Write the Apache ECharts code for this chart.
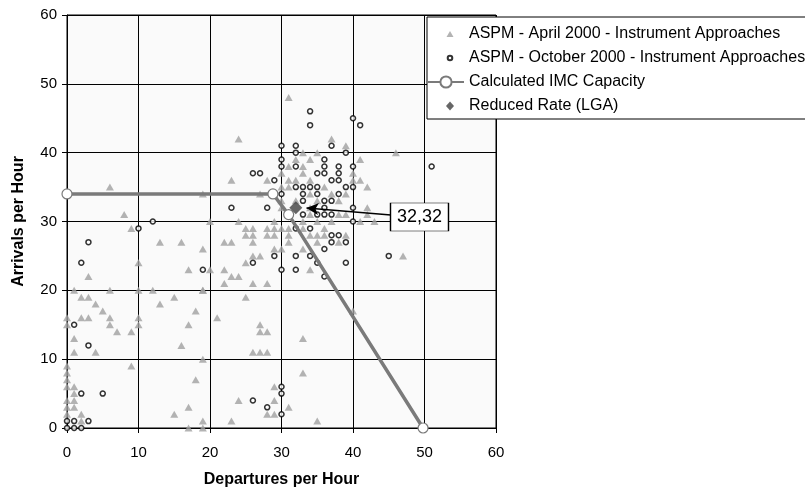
<!DOCTYPE html>
<html><head><meta charset="utf-8">
<script src="https://cdn.jsdelivr.net/npm/echarts@6/dist/echarts.min.js"></script>
<style>html,body{margin:0;padding:0;background:#fff}#c{width:805px;height:489px}</style>
</head><body><div id="c"></div>
<script>
// ---- data ----
const seriesNames = [
  'ASPM - April 2000 - Instrument Approaches',
  'ASPM - October 2000 - Instrument Approaches',
  'Calculated IMC Capacity',
  'Reduced Rate (LGA)'
];
const xAxisTitle = 'Departures per Hour';
const yAxisTitle = 'Arrivals per Hour';
const axisMin = 0, axisMax = 60, axisStep = 10;

const april = [
 [1,20],[2,19],[3,19],[6,20],[10,20],[12,20],[19,20],[4,18],[13,18],[15,19],[5,17],[18,17],
 [0,16],[2,16],[3,16],[6,16],[10,16],[0,15],[6,15],[10,15],[7,14],[9,14],[17,15],[1,13],
 [16,12],[1,11],[4,11],[19,10],[9,9],[0,9],[0,8],[0,7],[0,6],[1,6],[18,7],[1,5],[0,4],[1,4],
 [0,3],[1,3],[17,3],[2,2],[15,2],[0,2],[2,1],[19,1],[17,0],[19,0],[23,1],[35,1],
 [6,35],[19,34],[8,31],[9,29],[13,27],[16,27],[19,26],[10,24],[17,23],[3,22],[20,30],
 [23,36],[27,34],[24,30],[25,28],[22,27],[23,27],[26,27],
 [25,29],[26,29],[28,29],[29,29],[30,29],[31,29],
 [26,28],[28,28],[29,28],[31,28],[35,28],[36,28],
 [31,27],[35,27],[38,27],
 [29,26],[26,25],[27,25],[25,24],[20,23],[22,23],[23,22],[24,22],[34,23],
 [22,21],[26,21],[28,21],[19,20],[25,19],[21,16],[27,15],[27,14],[28,14],[33,13],
 [26,11],[27,11],[28,11],[33,8],[29,6],[24,4],[29,4],[31,3],[28,2],[29,2],[40,17],
 [31,48],[24,42],[37,42],[39,41],[33,40],[35,40],[46,40],[32,39],[34,39],[41,39],
 [31,38],[33,38],[30,37],[33,37],[40,37],[28,36],[31,36],[32,36],[34,36],[40,36],[41,36],
 [42,35],[30,35],[31,35],[36,35],[29,34],[34,34],[37,34],[39,34],
 [30,33],[32,33],[35,33],[38,33],[30,32],[34,32],[42,32],
 [31,31],[34,31],[38,31],[39,31],[42,31],[29,30],[33,30],[35,30],[37,30],[41,30],[43,30],
 [33,29],[36,29],[34,28],[39,28],[30,26],[33,26],[47,25]
];
const october = [
 [1,15],[3,12],[2,5],[5,5],[0,1],[1,1],[3,1],[0,0],[1,0],[2,0],
 [12,30],[10,29],[3,27],[2,24],[19,23],
 [23,32],[28,32],[26,24],[30,6],[30,5],[26,4],[28,3],[30,2],
 [34,46],[34,44],[40,45],[41,44],[30,41],[32,41],[37,41],[32,40],[39,40],
 [30,39],[36,39],[30,38],[32,38],[36,38],[38,38],[40,38],
 [26,37],[27,37],[35,37],[36,37],[38,37],[29,36],[37,36],[38,36],
 [32,35],[33,35],[34,35],[35,35],[39,35],[40,35],
 [30,34],[33,34],[35,34],[38,34],[33,33],[36,33],[37,33],[36,32],[40,32],
 [33,31],[35,31],[36,31],[37,31],[40,30],[32,29],[34,29],
 [37,28],[38,28],[37,27],[39,27],[36,26],[29,25],[32,25],[34,25],
 [35,24],[39,24],[30,23],[32,23],[36,22],[51,38],[45,25]
];
const imcCapacity = [[0,34],[28.8,34],[31,31],[49.8,0]];
const reducedRate = [[32,32]];
const calloutText = '32,32';
const calloutBox = [49.3, 30.65];     // callout centre (data units)
const calloutArrow = [[45.3, 30.95], [33.5, 31.95]];

// ---- chart ----
const FONT = '"Liberation Sans", Arial, sans-serif';
const triIcon = 'path://M0,0 M36,14 M22,4 L25.5,10 L18.5,10 Z';
const cirIcon = 'path://M0,0 M36,14 M19.7,7 A2.3,2.3 0 1 1 24.3,7 A2.3,2.3 0 1 1 19.7,7 Z';
const diaIcon = 'path://M0,0 M36,14 M22,2.5 L26,7 L22,11.5 L18,7 Z';

const chart = echarts.init(document.getElementById('c'), null, {renderer: 'canvas'});
const axisCommon = {
  type: 'value', min: axisMin, max: axisMax, interval: axisStep,
  axisLine: {show: true, onZero: false, lineStyle: {color: '#000', width: 1}},
  axisTick: {show: true, length: 5, lineStyle: {color: '#000'}},
  splitLine: {show: true, lineStyle: {color: '#000', width: 1}},
  nameLocation: 'middle',
  nameTextStyle: {fontFamily: FONT, fontWeight: 'bold', fontSize: 16, color: '#000'}
};
chart.setOption({
  animation: false,
  backgroundColor: '#fff',
  grid: {left: 67, top: 15, width: 429, height: 413, containLabel: false, outerBoundsMode: 'none',
         show: true, backgroundColor: '#fafafa', borderColor: '#000', borderWidth: 1},
  xAxis: Object.assign({}, axisCommon, {
    name: xAxisTitle, nameGap: 44,
    axisLabel: {fontFamily: FONT, fontSize: 15, color: '#000', margin: 17}
  }),
  yAxis: Object.assign({}, axisCommon, {
    name: yAxisTitle, nameGap: 40, nameRotate: 90,
    axisLabel: {fontFamily: FONT, fontSize: 15, color: '#000', margin: 10}
  }),
  legend: {
    orient: 'vertical', left: 427, top: 17,
    padding: [9, 40, 5, 0],
    itemWidth: 36, itemHeight: 14, itemGap: 8,
    backgroundColor: '#fff', borderColor: '#000', borderWidth: 1, borderRadius: 0,
    textStyle: {fontFamily: FONT, fontSize: 16, color: '#000', lineHeight: 14},
    selectedMode: false,
    data: [
      {name: seriesNames[0], icon: triIcon},
      {name: seriesNames[1], icon: cirIcon},
      {name: seriesNames[2]},
      {name: seriesNames[3], icon: diaIcon}
    ]
  },
  series: [
    {
      name: seriesNames[0], type: 'scatter', data: april, clip: false,
      symbol: 'triangle', symbolSize: [8, 7],
      itemStyle: {color: '#a0a0a0'}
    },
    {
      name: seriesNames[1], type: 'scatter', data: october, clip: false,
      symbol: 'circle', symbolSize: 5,
      itemStyle: {color: '#fff', borderColor: '#000', borderWidth: 1.5}
    },
    {
      name: seriesNames[2], type: 'line', data: imcCapacity, clip: false,
      symbol: 'circle', symbolSize: 10, showSymbol: true,
      lineStyle: {color: '#7a7a7a', width: 3.5},
      itemStyle: {color: '#fff', borderColor: '#7a7a7a', borderWidth: 1.2}
    },
    {
      name: seriesNames[3], type: 'scatter', data: reducedRate, clip: false,
      symbol: 'diamond', symbolSize: 13, z: 5,
      itemStyle: {color: '#404040'},
      markLine: {
        silent: true, symbol: ['none', 'arrow'], symbolSize: [9, 12],
        label: {show: false},
        lineStyle: {color: '#000', width: 1.5, type: 'solid'},
        data: [[{coord: calloutArrow[0]}, {coord: calloutArrow[1]}]]
      },
      markPoint: {
        silent: true, symbol: 'rect', symbolSize: [58, 28],
        itemStyle: {color: '#fff', borderColor: '#000', borderWidth: 1},
        label: {show: true, formatter: calloutText, fontFamily: FONT, fontSize: 18, color: '#000'},
        data: [{coord: calloutBox}]
      }
    }
  ]
});
</script></body></html>
